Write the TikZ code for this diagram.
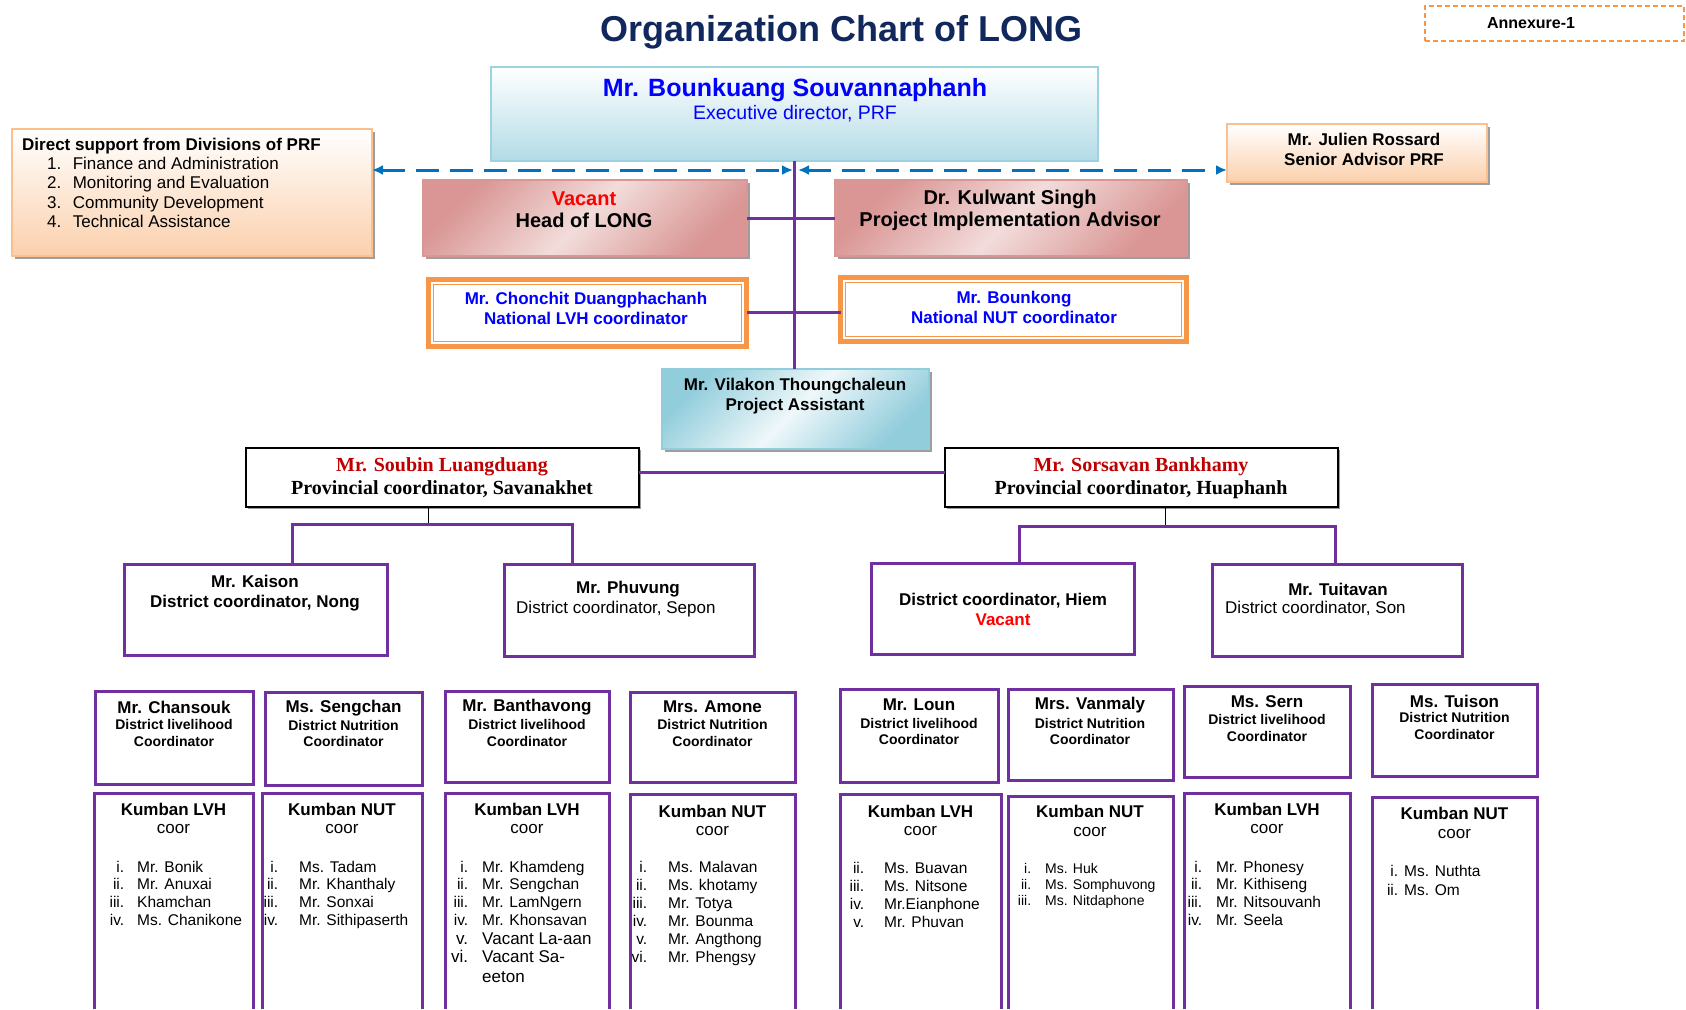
\documentclass[tikz,border=0pt]{standalone}
\usepackage{fontspec}
\setmainfont{Liberation Sans}
\newfontfamily\tnr{Liberation Serif}
\usetikzlibrary{arrows.meta,shadows}
\definecolor{navy}{HTML}{11285C}
\definecolor{purp}{HTML}{7030A0}
\definecolor{orng}{HTML}{F79646}
\definecolor{dblue}{HTML}{0070C0}
\definecolor{bblue}{HTML}{0000FF}
\definecolor{dred}{HTML}{C00000}
\definecolor{vred}{HTML}{FF0000}
\definecolor{peach}{HTML}{FBD0AC}
\definecolor{peachb}{HTML}{FAC090}
\definecolor{lblue}{HTML}{B2DBE6}
\definecolor{lblueb}{HTML}{9DD3E0}
\definecolor{pablue}{HTML}{92CDDC}
\definecolor{pinkd}{HTML}{D99694}
\definecolor{pinkl}{HTML}{F2DCDB}
\newcommand\mkbox[6]{\node[#2, inner sep=0pt, outer sep=0pt, minimum width={#5-#3}, minimum height={#6-#4}] (#1) at ({(#3+#5)/2},{(#4+#6)/2}) {};}
\newcommand\ilist[7]{%
  \foreach \nm/\tx [count=\k from 0] in {#7}{%
    \node[tt, anchor=mid west, inner sep=0pt, font=\fontsize{#6}{#6}\selectfont] (#1\k) at (#2,{#3+\k*#4}) {\llap{\nm\hspace{#5pt}}\tx};}}
\newcommand\ubox[5]{%
  \mkbox{#1}{draw=none}{#2}{#3}{#4}{#5}
  \draw[pline] (#1.south west) -- (#1.north west) -- (#1.north east) -- (#1.south east);}
\begin{document}
\begin{tikzpicture}[x=1pt,y=-1pt,
  tt/.style={yshift=-2.5pt},
  shadowed/.style={drop shadow={shadow xshift=3pt, shadow yshift=-3pt, fill=black!38, opacity=1}},
  pline/.style={draw=purp, line width=3pt},
  pbox/.style={draw=purp, line width=3pt},
  pinkbox/.style={draw=pinkd, line width=1.2pt, top color=pinkd, bottom color=pinkd, middle color=pinkl, shading angle=45, shadowed},
  peachbox/.style={draw=peachb, line width=1.4pt, top color=white, bottom color=peach, shadowed},
  orbox/.style={draw=orng, line width=5pt, fill=white},
  provbox/.style={draw=black, line width=2.4pt, fill=white, drop shadow={shadow xshift=2pt, shadow yshift=-2pt, fill=black!40, opacity=1}},
  dasharrow/.style={draw=dblue, line width=3pt, dash pattern=on 23pt off 11pt, {Latex[length=11pt,width=10pt]}-{Latex[length=11pt,width=10pt]}},
  bf17/.style={font=\fontsize{17}{20}\selectfont\bfseries, align=center},
  bf14/.style={font=\fontsize{14}{16.5}\selectfont\bfseries, align=center},
  rg17/.style={font=\fontsize{17}{20}\selectfont},
  bf20/.style={font=\fontsize{20}{22}\selectfont\bfseries, align=center},
  tnr20/.style={font=\fontsize{20}{23}\selectfont\tnr\bfseries, align=center}]
\useasboundingbox (0,0) rectangle (1686,1009);
\fill[white] (0,0) rectangle (1686,1009);

% title and annexure
\node[font=\fontsize{36}{40}\selectfont\bfseries, text=navy] (title) at (841,32.5) {Organization Chart of LONG};
\mkbox{annex}{draw=orng, line width=1.2pt, dash pattern=on 5pt off 3pt}{1425}{6}{1684}{41}
\node[font=\fontsize{16}{18}\selectfont\bfseries] (annext) at (1531,23) {Annexure-1};

% executive director
\mkbox{exec}{draw=lblueb, line width=1.2pt, top color=white, bottom color=lblue}{491}{67}{1098}{161}
\node[tt, font=\fontsize{25}{28}\selectfont\bfseries, text=bblue] (execn) at (795,87.5) {Mr. Bounkuang Souvannaphanh};
\node[font=\fontsize{19.5}{22}\selectfont, text=bblue, yshift=-1pt] (exect) at (795,113) {Executive director, PRF};

% direct support
\mkbox{ds}{peachbox}{12}{129}{372}{256}
\node[tt, anchor=mid west, inner sep=0pt, font=\fontsize{17}{20}\selectfont\bfseries] (dsh) at (22,145) {Direct support from Divisions of PRF};
\ilist{dsl}{72.6}{164.5}{19.2}{11.4}{17}{1./Finance and Administration, 2./Monitoring and Evaluation, 3./Community Development, 4./Technical Assistance}

% senior advisor
\mkbox{jr}{peachbox}{1227}{124}{1487}{182}
\node[bf17, yshift=1pt] (jrt) at (1364,150) {Mr. Julien Rossard\\Senior Advisor PRF};

% head and advisor
\mkbox{head}{pinkbox}{423}{180}{747}{256}
\node[bf20] (headt) at (584,210) {\textcolor{vred}{Vacant}\\Head of LONG};
\mkbox{kul}{pinkbox}{835}{180}{1187}{256}
\node[bf20] (kult) at (1010,210) {Dr. Kulwant Singh\\Project Implementation Advisor};

% national coordinators
\mkbox{ch}{orbox}{428.5}{279.5}{746.5}{346.5}
\draw[draw=orng, line width=1.4pt] ([xshift=5pt,yshift=-5pt]ch.north west) rectangle ([xshift=-5pt,yshift=5pt]ch.south east);
\node[bf17, text=bblue] (cht) at (586,308) {Mr. Chonchit Duangphachanh\\National LVH coordinator};
\mkbox{bk}{orbox}{840.5}{277.5}{1186.5}{341.5}
\draw[draw=orng, line width=1.4pt] ([xshift=5pt,yshift=-5pt]bk.north west) rectangle ([xshift=-5pt,yshift=5pt]bk.south east);
\node[bf17, text=bblue] (bkt) at (1014,307.5) {Mr. Bounkong\\National NUT coordinator};

% project assistant
\mkbox{pa}{draw=pablue, line width=1.2pt, top color=pablue, bottom color=pablue, middle color=white!85!pablue, shading angle=45, shadowed}{662}{369}{929}{449}
\node[bf17, tt] (pat) at (795,394) {Mr. Vilakon Thoungchaleun\\Project Assistant};

% main connectors
\draw[pline] (exec.south) -- (exec.south |- pa.north);
\draw[pline] (head.east) -- (kul.west);
\draw[pline] ([yshift=1pt]ch.east) -- ([yshift=1pt]ch.east -| bk.west);
\coordinate (jL) at (793,170);
\coordinate (jR) at (798,170);
\draw[dasharrow] (ds.east |- jL) -- (jL);
\draw[dasharrow] (jR) -- (jR -| jr.west);

% provincial coordinators
\mkbox{sb}{provbox}{246}{448}{639}{507}
\node[tnr20, yshift=-1pt] (sbt) at (442,477) {\textcolor{dred}{Mr. Soubin Luangduang}\\Provincial coordinator, Savanakhet};
\mkbox{ss}{provbox}{945}{448}{1338}{507}
\node[tnr20, yshift=-1pt] (sst) at (1141,477) {\textcolor{dred}{Mr. Sorsavan Bankhamy}\\Provincial coordinator, Huaphanh};
\draw[pline] ([yshift=5.5pt]sb.east) -- ([yshift=5.5pt]sb.east -| ss.west);

% district coordinators
\mkbox{ka}{pbox}{124}{564}{387}{655}
\node[bf17, yshift=-1.5pt] (kat) at (255,591.5) {Mr. Kaison\\District coordinator, Nong};
\mkbox{ph}{pbox}{504}{564}{754}{656}
\node[bf17, yshift=-1.5pt] (phn) at (628,588) {Mr. Phuvung};
\node[rg17, tt, anchor=mid west, inner sep=0pt] (pht) at (516,608) {District coordinator, Sepon};
\mkbox{hi}{pbox}{871}{563}{1134}{654}
\node[bf17] (hit) at (1003,609) {District coordinator, Hiem\\\textcolor{vred}{Vacant}};
\mkbox{tu}{pbox}{1212}{564}{1462}{656}
\node[bf17, yshift=-1.5pt] (tun) at (1338,588) {Mr. Tuitavan};
\node[rg17, tt, anchor=mid west, inner sep=0pt] (tut) at (1225,608) {District coordinator, Son};

% provincial to district connectors
\coordinate (sbj) at (428,524);
\coordinate (sbL) at (292,524);
\coordinate (sbR) at (572,524);
\draw[black, line width=1pt] (sb.south -| sbj) -- (sbj);
\draw[pline] (ka.north -| sbL) -- (sbL) -- (sbR) -- (sbR |- ph.north);
\coordinate (ssj) at (1165,526);
\coordinate (ssL) at (1019,526);
\coordinate (ssR) at (1335,526);
\draw[black, line width=1pt] (ss.south -| ssj) -- (ssj);
\draw[pline] (hi.north -| ssL) -- (ssL) -- (ssR) -- (ssR |- tu.north);

% district staff boxes
\mkbox{a1}{pbox}{95}{691}{253}{784}
\node[bf17] (a1n) at (174,707) {Mr. Chansouk};
\node[bf14] (a1t) at (174,733) {District livelihood\\Coordinator};
\mkbox{a2}{pbox}{265}{692}{422}{785}
\node[bf17] (a2n) at (343.5,708) {Ms. Sengchan};
\node[bf14] (a2t) at (343.5,733.5) {District Nutrition\\Coordinator};
\mkbox{a3}{pbox}{445}{691}{609}{782}
\node[bf17] (a3n) at (527,707) {Mr. Banthavong};
\node[bf14] (a3t) at (527,733) {District livelihood\\Coordinator};
\mkbox{a4}{pbox}{630}{692}{795}{782}
\node[bf17] (a4n) at (712.5,707) {Mrs. Amone};
\node[bf14] (a4t) at (712.5,733) {District Nutrition\\Coordinator};
\mkbox{b1}{pbox}{840}{689}{998}{782}
\node[bf17] (b1n) at (919,705) {Mr. Loun};
\node[bf14] (b1t) at (919,731.5) {District livelihood\\Coordinator};
\mkbox{b2}{pbox}{1008}{689}{1173}{780}
\node[bf17] (b2n) at (1090,705) {Mrs. Vanmaly};
\node[bf14] (b2t) at (1090,731.5) {District Nutrition\\Coordinator};
\mkbox{b3}{pbox}{1184}{686}{1350}{777}
\node[bf17] (b3n) at (1267,702) {Ms. Sern};
\node[bf14] (b3t) at (1267,728) {District livelihood\\Coordinator};
\mkbox{b4}{pbox}{1372}{684}{1537}{776}
\node[bf17] (b4n) at (1454.5,701) {Ms. Tuison};
\node[bf14] (b4t) at (1454.5,726) {District Nutrition\\Coordinator};

% kumban boxes
\ubox{k1}{94}{793}{253}{1009}
\node[bf17] (k1n) at (173.5,809) {Kumban LVH};
\node[rg17] (k1c) at (173.5,829) {coor};
\ilist{k1l}{137}{867}{17.7}{13}{15.5}{i./Mr. Bonik, ii./Mr. Anuxai, iii./Khamchan, iv./Ms. Chanikone}

\ubox{k2}{262}{793}{422}{1009}
\node[bf17] (k2n) at (342,809) {Kumban NUT};
\node[rg17] (k2c) at (342,829) {coor};
\ilist{k2l}{299}{867}{17.7}{21}{15.5}{i./Ms. Tadam, ii./Mr. Khanthaly, iii./Mr. Sonxai, iv./Mr. Sithipaserth}

\ubox{k3}{445}{793}{609}{1009}
\node[bf17] (k3n) at (527,809) {Kumban LVH};
\node[rg17] (k3c) at (527,829) {coor};
\ilist{k3l}{482}{867}{17.7}{14}{15.5}{i./Mr. Khamdeng, ii./Mr. Sengchan, iii./Mr. LamNgern, iv./Mr. Khonsavan}
\ilist{k3m}{482}{939}{18.5}{14}{17}{v./Vacant La-aan, vi./Vacant Sa-}
\node[tt, anchor=mid west, inner sep=0pt, font=\fontsize{17}{17}\selectfont] (k3e) at (482,977) {eeton};

\ubox{k4}{630}{794}{795}{1009}
\node[bf17] (k4n) at (712.5,811) {Kumban NUT};
\node[rg17] (k4c) at (712.5,831) {coor};
\ilist{k4l}{668}{867.5}{18}{21}{15.5}{i./Ms. Malavan, ii./Ms. khotamy, iii./Mr. Totya, iv./Mr. Bounma, v./Mr. Angthong, vi./Mr. Phengsy}

\ubox{l1}{840}{794}{1001}{1009}
\node[bf17] (l1n) at (920.5,811) {Kumban LVH};
\node[rg17] (l1c) at (920.5,831) {coor};
\ilist{l1l}{884}{868}{18}{20}{15.5}{ii./Ms. Buavan, iii./Ms. Nitsone, iv./Mr.Eianphone, v./Mr. Phuvan}

\ubox{l2}{1008}{796}{1173}{1009}
\node[bf17] (l2n) at (1090,811) {Kumban NUT};
\node[rg17] (l2c) at (1090,832) {coor};
\ilist{l2l}{1045}{868}{16}{14}{14}{i./Ms. Huk, ii./Ms. Somphuvong, iii./Ms. Nitdaphone}

\ubox{l3}{1184}{793}{1350}{1009}
\node[bf17] (l3n) at (1267,809) {Kumban LVH};
\node[rg17] (l3c) at (1267,829) {coor};
\ilist{l3l}{1216}{867}{17.7}{14}{15.5}{i./Mr. Phonesy, ii./Mr. Kithiseng, iii./Mr. Nitsouvanh, iv./Mr. Seela}

\ubox{l4}{1372}{797}{1537}{1009}
\node[bf17] (l4n) at (1454.5,813) {Kumban NUT};
\node[rg17] (l4c) at (1454.5,834) {coor};
\ilist{l4l}{1404}{871}{19}{6}{15.5}{i./Ms. Nuthta, ii./Ms. Om}
\end{tikzpicture}
\end{document}
